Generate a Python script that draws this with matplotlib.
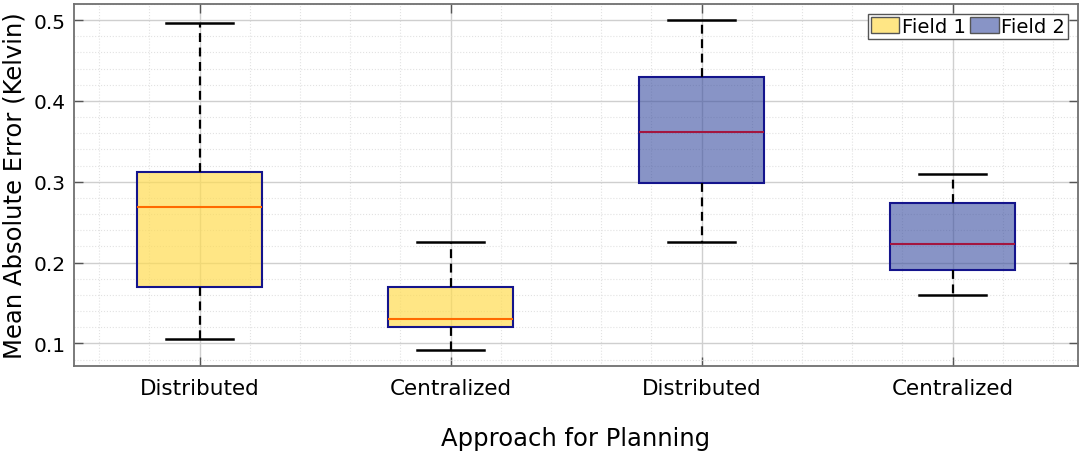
import matplotlib
matplotlib.use("Agg")
import matplotlib.pyplot as plt
from matplotlib.patches import Patch
from matplotlib.ticker import MultipleLocator

categories = ["Distributed", "Centralized", "Distributed", "Centralized"]
groups = ["Field 1", "Field 1", "Field 2", "Field 2"]
whislo = [0.106, 0.092, 0.225, 0.160]
q1 = [0.170, 0.120, 0.298, 0.191]
med = [0.269, 0.130, 0.362, 0.223]
q3 = [0.312, 0.170, 0.430, 0.274]
whishi = [0.497, 0.226, 0.500, 0.310]

fill_colors = {"Field 1": "#ffdc52", "Field 2": "#394da0"}
fill_alpha = {"Field 1": 0.7, "Field 2": 0.6}
median_colors = {"Field 1": "#ff6a00", "Field 2": "#a3163f"}
edge = "#14148c"

stats = []
for i in range(len(categories)):
    stats.append(dict(med=med[i], q1=q1[i], q3=q3[i], whislo=whislo[i], whishi=whishi[i], fliers=[]))

fig = plt.figure(figsize=(10.84, 4.52), dpi=100)
ax = fig.add_axes([74/1084, 1 - 367/452, (1078-74)/1084, (367-5)/452])

positions = list(range(1, len(categories) + 1))
bp = ax.bxp(stats, positions=positions, widths=0.5, patch_artist=True, showfliers=False,
            whiskerprops=dict(color="black", linestyle=(0, (4, 2.5)), linewidth=1.6),
            capprops=dict(color="black", linewidth=1.8),
            boxprops=dict(edgecolor=edge, linewidth=1.5),
            capwidths=0.27)
for i, b in enumerate(bp["boxes"]):
    g = groups[i]
    b.set_facecolor(matplotlib.colors.to_rgba(fill_colors[g], fill_alpha[g]))
    b.set_edgecolor(edge)
    b.set_zorder(2)
for i, m in enumerate(bp["medians"]):
    m.set_color(median_colors[groups[i]])
    m.set_linewidth(1.5)
    m.set_zorder(3)

ax.set_xlim(0.5, 4.5)
ax.set_ylim(0.072, 0.52)
ax.set_xticks(positions)
ax.set_xticklabels(categories)
ax.yaxis.set_major_locator(MultipleLocator(0.1))
ax.yaxis.set_minor_locator(MultipleLocator(0.02))
ax.xaxis.set_minor_locator(MultipleLocator(0.2))
ax.tick_params(axis="both", which="major", direction="in", length=6.5, width=1.0,
               color="#555555", top=True, right=True)
ax.tick_params(axis="x", labelsize=15.5, pad=9)
ax.tick_params(axis="y", labelsize=14.5, pad=6)
ax.tick_params(axis="both", which="minor", length=0)
ax.grid(True, which="major", color="#cfcfcf", linewidth=1.0, zorder=0)
ax.grid(True, which="minor", color="#e2e2e2", linestyle=":", linewidth=0.8, zorder=0)
ax.set_axisbelow(True)
for s in ax.spines.values():
    s.set_color("#707070")
    s.set_linewidth(1.3)

ax.set_ylabel("Mean Absolute Error (Kelvin)", fontsize=17.5, labelpad=5)
ax.set_xlabel("Approach for Planning", fontsize=17.5, labelpad=20)

handles = [Patch(facecolor=matplotlib.colors.to_rgba(fill_colors[g], fill_alpha[g]), edgecolor="#555555", label=g)
           for g in ["Field 1", "Field 2"]]
leg = ax.legend(handles=handles, loc="upper right", ncol=2, fontsize=14, frameon=True,
                fancybox=False, edgecolor="#555555", framealpha=1, borderpad=0.15,
                handlelength=1.45, handleheight=0.85, handletextpad=0.15, columnspacing=0.25,
                borderaxespad=0.5)
leg.get_frame().set_linewidth(1.0)

fig.savefig("out.png", dpi=100)
